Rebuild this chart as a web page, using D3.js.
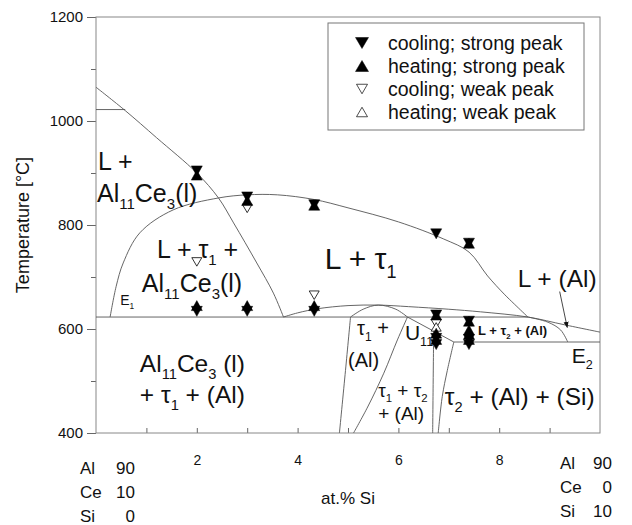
<!DOCTYPE html>
<html>
<head>
<meta charset="utf-8">
<script src="https://cdn.jsdelivr.net/npm/d3@7"></script>
<style>
  body { margin: 0; background: #fff; }
  svg { display: block; }
</style>
</head>
<body>
<svg id="chart" width="632" height="525"></svg>
<script>
// axis ticks
const xTicks = [1, 2, 3, 4, 5, 6, 7, 8, 9];
const xLabelled = [2, 4, 6, 8];
const yTicks = [400, 600, 800, 1000, 1200];
const yMinor = [500, 700, 900, 1100];

// end compositions of the section
const leftComposition = [['Al', 90], ['Ce', 10], ['Si', 0]];
const rightComposition = [['Al', 90], ['Ce', 0], ['Si', 10]];

// phase boundaries, [at.% Si, °C]
const al11ce3Liquidus = [[0, 1065], [0.58, 1020], [1.2, 968], [2.0, 900], [2.43, 852], [2.73, 804], [3.19, 727], [3.52, 669], [3.72, 623]];
const al11ce3Shelf = [[0, 1022], [0.58, 1022]];
const tau1Liquidus = [[0.28, 623], [0.4, 682], [0.54, 727], [0.87, 785], [1.53, 829], [2.43, 852], [3.0, 858], [3.6, 858], [4.33, 849], [5.0, 833], [6.0, 806], [6.9, 773], [7.4, 748], [7.77, 702], [8.1, 667], [8.3, 648], [8.57, 623]];
const alLiquidus = [[3.72, 623], [4.0, 631], [4.4, 639], [5.0, 645], [5.6, 646], [6.2, 643], [7.0, 638], [7.63, 633], [8.57, 623], [9.3, 608], [10, 594]];
const e1Line = [[0, 623], [8.57, 623]];
const e2Line = [[7.1, 575], [10, 575]];
const tau1AlCap = [[5.05, 623], [5.3, 638], [5.6, 646], [5.95, 638], [6.18, 623]];
const tau1AlLeft = [[5.05, 623], [4.95, 520], [4.83, 400]];
const tau1AlRight = [[6.18, 623], [5.98, 579], [5.71, 515], [5.39, 450], [5.11, 400]];
const u11Line = [[6.18, 623], [7.1, 575]];
const tau2Left = [[6.7, 597], [6.69, 500], [6.68, 400]];
const tau2Right = [[7.1, 575], [6.97, 520], [6.87, 470], [6.79, 400]];
const lTau2AlEdge = [[8.57, 623], [8.97, 613], [9.22, 598], [9.36, 575]];
const boundaries = [al11ce3Liquidus, al11ce3Shelf, tau1Liquidus, alLiquidus, e1Line, e2Line,
  tau1AlCap, tau1AlLeft, tau1AlRight, u11Line, tau2Left, tau2Right, lTau2AlEdge];
const pointer = [[9.2, 672], [9.35, 603]];

// DTA signals, [at.% Si, °C]
const coolingStrong = [[2, 904], [2, 634], [3, 854], [3, 634], [4.33, 839], [4.33, 634],
  [6.75, 783], [6.75, 627], [6.75, 582], [6.75, 570], [7.4, 765], [7.4, 615], [7.4, 580], [7.4, 570]];
const heatingStrong = [[2, 896], [2, 645], [3, 847], [3, 645], [4.33, 838], [4.33, 645],
  [6.75, 627], [6.75, 592], [6.75, 580], [7.4, 765], [7.4, 615], [7.4, 598], [7.4, 590], [7.4, 580]];
const coolingWeak = [[2, 729], [3, 832], [4.33, 665], [6.75, 610]];
const heatingWeak = [[6.75, 604]];

const legendItems = ['cooling; strong peak', 'heating; strong peak', 'cooling; weak peak', 'heating; weak peak'];

// region labels, anchored at [at.% Si, °C] (left / baseline)
const regionLabels = [
  { text: 'L +', at: [0.04, 906], size: 25 },
  { text: 'Al_{11}Ce_{3}(l)', at: [0.02, 844], size: 25 },
  { text: 'L + τ_{1} +', at: [1.21, 737], size: 25 },
  { text: 'Al_{11}Ce_{3}(l)', at: [0.91, 671], size: 25 },
  { text: 'L + τ_{1}', at: [4.54, 715], size: 30 },
  { text: 'L + (Al)', at: [8.37, 681], size: 24.5 },
  { text: 'Al_{11}Ce_{3} (l)', at: [0.87, 517], size: 24.5 },
  { text: '+ τ_{1} + (Al)', at: [0.87, 458], size: 24.5 },
  { text: 'τ_{1} +', at: [5.18, 588], size: 20 },
  { text: '(Al)', at: [5.0, 527], size: 20 },
  { text: 'U_{11}', at: [6.13, 579], size: 21 },
  { text: 'τ_{1} + τ_{2}', at: [5.6, 469], size: 19 },
  { text: '+ (Al)', at: [5.6, 425], size: 19 },
  { text: 'τ_{2} + (Al) + (Si)', at: [6.92, 454], size: 24.5 },
  { text: 'L + τ_{2} + (Al)', at: [7.58, 588], size: 13, bold: true },
  { text: 'E_{1}', at: [0.48, 646], size: 14 },
  { text: 'E_{2}', at: [9.44, 535], size: 21 }
];

const FONT = '"Liberation Sans", Arial, Helvetica, sans-serif';
const svg = d3.select('#chart');

const x = d3.scaleLinear().domain([0, 10]).range([96, 600]);
const y = d3.scaleLinear().domain([400, 1200]).range([433, 17]);

// text with _{..} subscripts
function richText(sel, str, size) {
  const parts = str.split(/(_\{[^}]*\})/).filter(s => s.length);
  let shifted = false;
  parts.forEach(p => {
    if (p.startsWith('_{')) {
      sel.append('tspan').attr('font-size', size * 0.6).attr('dy', size * 0.28).text(p.slice(2, -1));
      shifted = true;
    } else {
      const t = sel.append('tspan').text(p);
      if (shifted) { t.attr('dy', -size * 0.28); shifted = false; }
    }
  });
}

function tri(w, h, down) {
  return down
    ? `M${-w / 2},${-h / 2}L${w / 2},${-h / 2}L0,${h / 2}Z`
    : `M${-w / 2},${h / 2}L${w / 2},${h / 2}L0,${-h / 2}Z`;
}

// axes
const yAxis = svg.append('g').attr('transform', `translate(${x(0)},0)`)
  .call(d3.axisLeft(y).tickValues(yTicks).tickSize(9).tickPadding(4).tickFormat(d3.format('d')));
const yAxisMinor = svg.append('g').attr('transform', `translate(${x(0)},0)`)
  .call(d3.axisLeft(y).tickValues(yMinor).tickSize(5).tickFormat(''));
const xAxis = svg.append('g').attr('transform', `translate(0,${y(400)})`)
  .call(d3.axisBottom(x).tickValues(xTicks).tickSize(-5).tickPadding(22)
    .tickFormat(d => xLabelled.includes(d) ? d : ''));
[yAxis, yAxisMinor, xAxis].forEach(g => {
  g.select('.domain').remove();
  g.selectAll('line').attr('stroke', '#666');
  g.selectAll('text').attr('font-family', FONT).attr('font-size', 15).attr('fill', '#111');
});
xAxis.selectAll('text').attr('font-size', 14);

// frame
svg.append('rect')
  .attr('x', x(0)).attr('y', y(1200))
  .attr('width', x(10) - x(0)).attr('height', y(400) - y(1200))
  .attr('fill', 'none').attr('stroke', '#888').attr('stroke-width', 1);

const line = d3.line().x(d => x(d[0])).y(d => y(d[1])).curve(d3.curveCatmullRom.alpha(0.5));

svg.append('g').selectAll('path').data(boundaries).join('path')
  .attr('d', line).attr('fill', 'none').attr('stroke', '#555').attr('stroke-width', 0.9);

// pointer arrow to the thin L + (Al) field
svg.append('defs').append('marker')
  .attr('id', 'head').attr('viewBox', '0 0 10 10').attr('refX', 9).attr('refY', 5)
  .attr('markerWidth', 7).attr('markerHeight', 7).attr('orient', 'auto')
  .append('path').attr('d', 'M0,1L10,5L0,9Z').attr('fill', '#111');
svg.append('path').attr('d', d3.line().x(d => x(d[0])).y(d => y(d[1]))(pointer))
  .attr('stroke', '#333').attr('stroke-width', 0.9).attr('fill', 'none')
  .attr('marker-end', 'url(#head)');

// labels
regionLabels.forEach(l => {
  const t = svg.append('text')
    .attr('x', x(l.at[0])).attr('y', y(l.at[1]))
    .attr('font-family', FONT).attr('font-size', l.size)
    .attr('font-weight', l.bold ? 'bold' : null).attr('fill', '#111');
  richText(t, l.text, l.size);
});

// DTA markers
const markerSets = [
  { data: coolingWeak, down: true, fill: '#fff', w: 10, h: 8.5 },
  { data: heatingWeak, down: false, fill: '#fff', w: 10, h: 8.5 },
  { data: coolingStrong, down: true, fill: '#000', w: 11, h: 10 },
  { data: heatingStrong, down: false, fill: '#000', w: 11, h: 10 }
];
markerSets.forEach(s => {
  svg.append('g').selectAll('path').data(s.data).join('path')
    .attr('transform', d => `translate(${x(d[0])},${y(d[1])})`)
    .attr('d', tri(s.w, s.h, s.down))
    .attr('fill', s.fill).attr('stroke', '#000').attr('stroke-width', s.fill === '#000' ? 0.5 : 0.8);
});

// axis titles
svg.append('text')
  .attr('transform', `translate(29,${(y(1200) + y(400)) / 2}) rotate(-90)`)
  .attr('text-anchor', 'middle').attr('font-family', FONT).attr('font-size', 18).attr('fill', '#111')
  .text('Temperature [°C]');
svg.append('text')
  .attr('x', (x(0) + x(10)) / 2).attr('y', 504)
  .attr('text-anchor', 'middle').attr('font-family', FONT).attr('font-size', 17).attr('fill', '#111')
  .text('at.% Si');

// end compositions
function compositionBlock(rows, left, right, top) {
  rows.forEach((r, i) => {
    svg.append('text').attr('x', left).attr('y', top + i * 24)
      .attr('font-family', FONT).attr('font-size', 17).attr('fill', '#111').text(r[0]);
    svg.append('text').attr('x', right).attr('y', top + i * 24).attr('text-anchor', 'end')
      .attr('font-family', FONT).attr('font-size', 17).attr('fill', '#111').text(r[1]);
  });
}
compositionBlock(leftComposition, 80, 135, 474);
compositionBlock(rightComposition, 560, 612, 469);

// legend
const legend = svg.append('g');
legend.append('rect').attr('x', 328).attr('y', 23).attr('width', 256).attr('height', 107)
  .attr('fill', '#fff').attr('stroke', '#777').attr('stroke-width', 1);
const legendMarks = [markerSets[2], markerSets[3], markerSets[0], markerSets[1]];
legendItems.forEach((name, i) => {
  const cy = 43 + i * 23;
  const m = legendMarks[i];
  const big = m.fill === '#000';
  legend.append('path').attr('transform', `translate(362,${cy})`)
    .attr('d', tri(big ? 13 : 11, big ? 11 : 9.5, m.down))
    .attr('fill', m.fill).attr('stroke', '#000').attr('stroke-width', big ? 0.5 : 0.7);
  legend.append('text').attr('x', 388).attr('y', cy).attr('dy', '0.36em')
    .attr('font-family', FONT).attr('font-size', 19.5).attr('fill', '#111').text(name);
});
</script>
</body>
</html>
